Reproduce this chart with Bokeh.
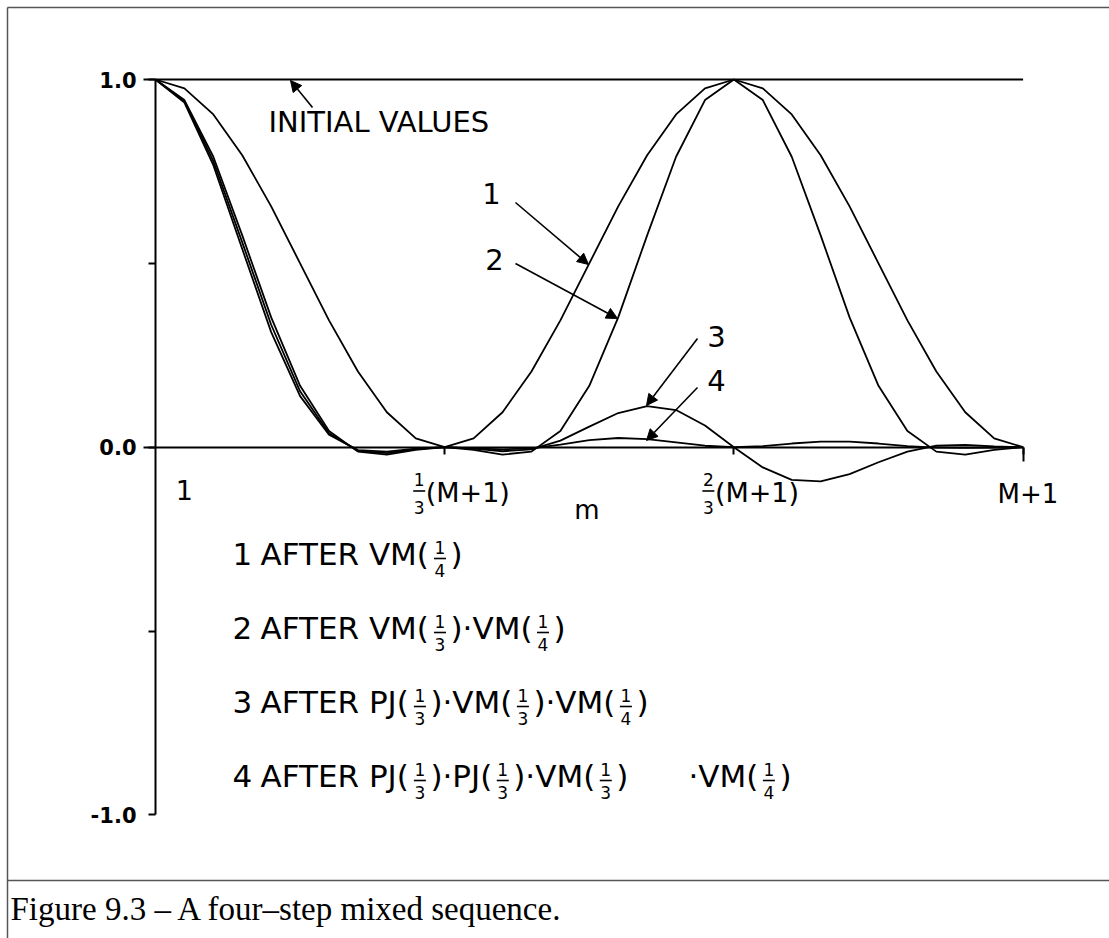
from bokeh.plotting import figure
from bokeh.models import Range1d, LinearAxis, FixedTicker, Arrow, NormalHead
from bokeh.core.properties import value
from bokeh.embed import file_html
from bokeh.resources import INLINE

# ---------------- data ----------------
m = [0, 1, 2, 3, 4, 5, 6, 7, 8, 9, 10, 11, 12, 13, 14, 15, 16, 17, 18, 19, 20,
     21, 22, 23, 24, 25, 26, 27, 28, 29, 30]
initial = [1.0, 1.0, 1.0, 1.0, 1.0, 1.0, 1.0, 1.0, 1.0, 1.0, 1.0, 1.0, 1.0, 1.0, 1.0, 1.0,
           1.0, 1.0, 1.0, 1.0, 1.0, 1.0, 1.0, 1.0, 1.0, 1.0, 1.0, 1.0, 1.0, 1.0, 1.0]
after1 = [1.000, 0.976, 0.905, 0.794, 0.655, 0.500, 0.345, 0.206, 0.095, 0.024, 0.000,
          0.024, 0.095, 0.206, 0.345, 0.500, 0.655, 0.794, 0.905, 0.976, 1.000,
          0.976, 0.905, 0.794, 0.655, 0.500, 0.345, 0.206, 0.095, 0.024, 0.000]
after2 = [1.000, 0.944, 0.790, 0.576, 0.353, 0.167, 0.044, -0.012, -0.020, -0.007, 0.000,
          -0.007, -0.020, -0.012, 0.044, 0.167, 0.353, 0.576, 0.790, 0.944, 1.000,
          0.944, 0.790, 0.576, 0.353, 0.167, 0.044, -0.012, -0.020, -0.007, 0.000]
after3 = [1.000, 0.941, 0.778, 0.557, 0.333, 0.152, 0.038, -0.010, -0.016, -0.005, 0.000,
          -0.004, -0.011, -0.006, 0.018, 0.056, 0.093, 0.112, 0.101, 0.059, 0.000,
          -0.055, -0.089, -0.093, -0.073, -0.041, -0.012, 0.004, 0.006, 0.002, 0.000]
after4 = [1.000, 0.937, 0.767, 0.539, 0.313, 0.139, 0.034, -0.008, -0.012, -0.004, 0.000,
          -0.003, -0.006, -0.003, 0.007, 0.019, 0.025, 0.022, 0.013, 0.004, 0.000,
          0.003, 0.010, 0.015, 0.015, 0.010, 0.003, -0.001, -0.002, -0.001, 0.000]

y_ticks = [-1.0, -0.5, 0.0, 0.5, 1.0]
y_tick_labels = ["-1.0", "", "0.0", "", "1.0"]
x_ticks = [10, 20, 30]
x_first_pos, x_first_label = 1, "1"
x_frac_labels = [(10, "1", "3", "(M+1)"), (20, "2", "3", "(M+1)")]
x_last_pos, x_last_label = 30, "M+1"
x_axis_name = "m"
initial_label = "INITIAL VALUES"
curve_labels = ["1", "2", "3", "4"]
legend_rows = [
    ("1", ["AFTER VM(", ("1", "4"), ")"]),
    ("2", ["AFTER VM(", ("1", "3"), ")·VM(", ("1", "4"), ")"]),
    ("3", ["AFTER PJ(", ("1", "3"), ")·VM(", ("1", "3"), ")·VM(", ("1", "4"), ")"]),
    ("4", ["AFTER PJ(", ("1", "3"), ")·PJ(", ("1", "3"), ")·VM(", ("1", "3"), ")", None,
           "·VM(", ("1", "4"), ")"]),
]
caption = "Figure 9.3 – A four–step mixed sequence."

# ---------------- layout (pixels) ----------------
W, H = 1109, 938
X0, SX = 155.0, 28.92
Y0, SY = 446.7, 367.7
KB = 0.40   # observed downward shift of glyph text, as fraction of the font size


def dx(px):
    return (px - X0) / SX


def dy(py):
    return (Y0 - py) / SY


SANS = "DejaVu Sans"
EM = {' ': 0.318, '(': 0.390, ')': 0.390, '+': 0.838, '·': 0.318, '.': 0.318,
      'A': 0.684, 'E': 0.632, 'F': 0.575, 'J': 0.295, 'M': 0.863, 'P': 0.603,
      'R': 0.695, 'T': 0.611, 'V': 0.684}


def tw(s, size):
    return sum(EM.get(c, 0.636) for c in s) * size


p = figure(width=W, height=H, x_range=Range1d(dx(0), dx(W)), y_range=Range1d(dy(H), dy(0)),
           x_axis_type=None, y_axis_type=None, toolbar_location=None,
           output_backend="svg", min_border=0, outline_line_color=None,
           background_fill_color="white", border_fill_color="white")

# ---- axes ----
yax = LinearAxis(fixed_location=0, bounds=(-1, 1),
                 ticker=FixedTicker(ticks=y_ticks, minor_ticks=[]),
                 major_label_overrides={t: s for t, s in zip(y_ticks, y_tick_labels)},
                 axis_line_width=2, axis_line_color="black",
                 major_tick_line_width=2, major_tick_out=7, major_tick_in=0,
                 major_label_standoff=12, major_label_text_font=SANS,
                 major_label_text_font_style="bold",
                 major_label_text_font_size="21px", major_label_text_color="black")
p.add_layout(yax, "left")
yax2 = LinearAxis(fixed_location=0, ticker=FixedTicker(ticks=[0.0, 1.0], minor_ticks=[]),
                  axis_line_color=None, major_tick_line_width=2, major_tick_out=12,
                  major_tick_in=0, major_label_text_color=None)
p.add_layout(yax2, "left")
xax = LinearAxis(fixed_location=0, bounds=(0, 30),
                 ticker=FixedTicker(ticks=x_ticks, minor_ticks=[]),
                 axis_line_width=2, axis_line_color="black",
                 major_tick_line_width=2, major_tick_out=7, major_tick_in=0,
                 major_label_text_color=None)
p.add_layout(xax, "below")
xax2 = LinearAxis(fixed_location=0, ticker=FixedTicker(ticks=[30], minor_ticks=[]),
                  axis_line_color=None, major_tick_line_width=2, major_tick_out=14,
                  major_tick_in=0, major_label_text_color=None)
p.add_layout(xax2, "below")

# ---- curves ----
p.line(m, initial, line_color="black", line_width=2)
for ys in (after1, after2, after3, after4):
    p.line(m, ys, line_color="black", line_width=1.8)

# ---- arrows ----
arrows_px = [((312, 107), (290, 80)), ((515, 202), (588, 264)), ((515, 263), (617, 318)),
             ((697, 338), (646, 405)), ((697, 387), (646, 440))]
for (sx, sy), (ex, ey) in arrows_px:
    p.add_layout(Arrow(end=NormalHead(size=11, line_color="black", fill_color="black", line_width=1),
                       x_start=dx(sx), y_start=dy(sy), x_end=dx(ex), y_end=dy(ey),
                       line_color="black", line_width=1.6))


# ---- texts ----
def txt(xs, bases, ts, size, align="left", font=SANS):
    # bases: wanted baseline positions in pixels
    ys = [dy(b - KB * size) for b in bases]
    p.text(x=xs, y=ys, text=ts, text_font=value(font), text_font_size="%dpx" % size,
           text_align=align, text_baseline="alphabetic", text_color="black")


txt([dx(268)], [133], [initial_label], 29)
lab_pos = [(491, 204.5), (494, 270.5), (716, 348), (716, 392)]
txt([dx(a) for a, b in lab_pos], [b for a, b in lab_pos], curve_labels, 29, "center")

# x tick labels
txt([x_first_pos], [500], [x_first_label], 27, "center")
txt([x_last_pos + dx(1027.5) - dx(X0 + SX * 30)], [504], [x_last_label], 26, "center")
SMALL = 17
bx0, by0, bx1, by1 = [], [], [], []
fx, fb, ft = [], [], []
px_, pb_, pt_ = [], [], []
for pos, num, den, rest in x_frac_labels:
    tpx = X0 + SX * pos
    fc = tpx - 25.5
    fx += [dx(fc), dx(fc)]
    fb += [486, 514]
    ft += [num, den]
    bx0.append(dx(fc - 6)); bx1.append(dx(fc + 6)); by0.append(dy(490.5)); by1.append(dy(490.5))
    px_.append(dx(tpx - 19)); pb_.append(503); pt_.append(rest)
txt(px_, pb_, pt_, 27)
txt([dx(586.5)], [520], [x_axis_name], 26, "center")

# legend rows
BIG = 31
row_c = [555, 629, 703, 777]
lx, lb, lt = [], [], []
for (num, pieces), c in zip(legend_rows, row_c):
    base = c + 11.3
    lx.append(dx(232)); lb.append(base); lt.append(num)
    cur = 260.0
    for pc in pieces:
        if pc is None:
            cur = 688.0
        elif isinstance(pc, tuple):
            n, d = pc
            fc = cur + 10.5
            fx += [dx(fc), dx(fc)]
            fb += [c - 1, c + 22]
            ft += [n, d]
            bx0.append(dx(fc - 6)); bx1.append(dx(fc + 6))
            by0.append(dy(c + 3)); by1.append(dy(c + 3))
            cur += 21.0
        else:
            lx.append(dx(cur)); lb.append(base); lt.append(pc)
            cur += tw(pc, BIG)
txt(lx, lb, lt, BIG)
txt(fx, fb, ft, SMALL, "center")
p.segment(x0=bx0, y0=by0, x1=bx1, y1=by1, line_color="black", line_width=1.6)

# page frame and caption
p.segment(x0=[dx(7), dx(7), dx(7)], y0=[dy(7), dy(7), dy(880)],
          x1=[dx(W), dx(7), dx(W)], y1=[dy(7), dy(H), dy(880)],
          line_color="#555555", line_width=1.5)
txt([dx(10)], [922], [caption], 33, "left", "Liberation Serif")

open("out.html", "w").write(file_html(p, INLINE))
